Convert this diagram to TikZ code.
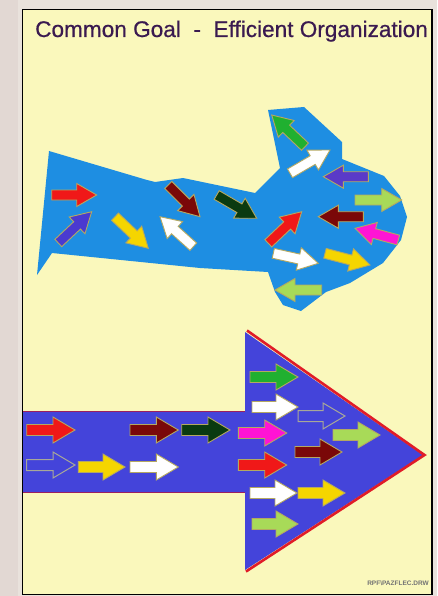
\documentclass[tikz,border=0pt]{standalone}
\usepackage{fontspec}
\setmainfont{Liberation Sans}
\newfontfamily\titlefont[FakeBold=0.6]{Liberation Sans}
\usetikzlibrary{calc}
\definecolor{bgout}{HTML}{E9E2DC}
\definecolor{bgleft}{HTML}{E2D8D3}
\definecolor{paper}{HTML}{FAF8BC}
\definecolor{skyblue}{HTML}{1E8EE2}
\definecolor{violetblue}{HTML}{4444DA}
\definecolor{titlec}{HTML}{3A1A50}
\definecolor{edgeol}{HTML}{B4A862}
\definecolor{edgegr}{HTML}{A8A898}
\definecolor{cred}{HTML}{F01818}
\definecolor{cdred}{HTML}{7A0808}
\definecolor{cdgreen}{HTML}{0A3A10}
\definecolor{cgreen}{HTML}{20B030}
\definecolor{cyellow}{HTML}{F5D500}
\definecolor{clgreen}{HTML}{A8DA58}
\definecolor{cmagenta}{HTML}{FF14D4}
\definecolor{cpurple}{HTML}{4A3AD0}
\definecolor{cviolet}{HTML}{5A3AC8}
\definecolor{rededge}{HTML}{E01C28}
\definecolor{shaftedge}{HTML}{9A2060}
\tikzset{
  arrowstyle/.style={draw=edgeol, line width=0.9pt, line join=miter},
  hollowstyle/.style={draw=edgegr, line width=1pt, fill=violetblue},
}
\newcommand{\shw}{5}
\newcommand{\hdw}{11.5}
\newcommand{\hdl}{20}
\newcommand{\blkarr}[6][arrowstyle]{%
  \pgfmathsetmacro\arlen{veclen(#5-#3,#6-#4)}%
  \pgfmathsetmacro\arang{atan2(#4-#6,#5-#3)}%
  \begin{scope}[shift={(#3,#4)},rotate=\arang]
    \filldraw[#1,fill=#2] (0,-\shw) -- (\arlen-\hdl,-\shw) -- (\arlen-\hdl,-\hdw) -- (\arlen,0) -- (\arlen-\hdl,\hdw) -- (\arlen-\hdl,\shw) -- (0,\shw) -- cycle;
  \end{scope}}
\begin{document}
\begin{tikzpicture}[x=1pt,y=-1pt]
\useasboundingbox (0,0) rectangle (437,596);
\fill[bgout] (0,0) rectangle (437,596);
\fill[bgleft] (0,0) rectangle (18,596);
\filldraw[fill=paper, draw=black, line width=1.6pt] (22.5,9.5) rectangle (432,594.5);
% title
\node[anchor=base west, text=titlec, font=\titlefont\fontsize{22.6}{26}\selectfont, inner sep=0] (title) at (35,37) {Common Goal\ \ -\ \ Efficient Organization};
% upper blue shape
\fill[skyblue] (49,151) -- (147,180) -- (155,182) -- (183,178) -- (255,193) -- (280,168) -- (268,110) -- (304,107) -- (342,142) -- (342,159) -- (384,176) -- (400,196) -- (407,217) -- (401,240) -- (383,263) -- (350,283) -- (326,292) -- (301,311) -- (283,305) -- (275,292) -- (268,272) -- (200,268) -- (52,253) -- (37,275) -- cycle;
% upper arrows
\blkarr{cred}{51.7}{195}{96.7}{195}
\blkarr{cpurple}{58.3}{243}{91.7}{211.7}
\blkarr{cyellow}{115}{216.7}{148.3}{248.3}
\blkarr{white}{193.3}{246.7}{160}{216.7}
\blkarr{cdred}{168.3}{185}{200}{216.7}
\blkarr{cdgreen}{216.7}{195}{256.7}{218.3}
\blkarr{cgreen}{305}{146.7}{271.7}{115}
\blkarr{white}{290}{173.3}{330}{150}
\blkarr{cviolet}{368.3}{176.7}{323.3}{176.7}
\blkarr{clgreen}{355}{200}{401.7}{200}
\blkarr{cred}{268.3}{243.3}{301.7}{211.7}
\blkarr{cdred}{363.3}{216.7}{318.3}{216.7}
\blkarr{cmagenta}{398.3}{240}{355}{228.3}
\blkarr{white}{273.3}{253.3}{318.3}{263.3}
\blkarr{cyellow}{325}{253.3}{370}{265}
\blkarr{clgreen}{321.7}{290}{275}{290}
% lower big arrow
\fill[violetblue] (23,412) -- (245,412) -- (245,332) -- (423,455) -- (245,570) -- (245,492) -- (23,492) -- cycle;
\draw[shaftedge, line width=0.8pt] (23,411.5) -- (245,411.5);
\draw[shaftedge, line width=0.8pt] (23,492.5) -- (245,492.5);
\draw[rededge, line width=2.6pt] (247,330.5) -- (424.5,455) -- (246,571.5);
% lower arrows
\renewcommand{\shw}{5.5}
\renewcommand{\hdw}{13}
\renewcommand{\hdl}{22}
\blkarr{cred}{26.7}{430}{75}{430}
\blkarr{cdred}{130}{430}{178.3}{430}
\blkarr{cdgreen}{181.7}{430}{230}{430}
\blkarr{cmagenta}{238.3}{433}{286.7}{433}
\blkarr[hollowstyle]{violetblue}{26.7}{465}{75}{465}
\blkarr{cyellow}{78.3}{467}{125}{467}
\blkarr{white}{130}{467}{178.3}{467}
\blkarr{cred}{238.3}{465}{286.7}{465}
\blkarr{cgreen}{250}{377}{298}{377}
\blkarr{white}{252}{407}{298}{407}
\blkarr[hollowstyle]{violetblue}{298}{416}{345}{416}
\blkarr{clgreen}{333}{435}{380}{435}
\blkarr{cdred}{295}{452}{342}{452}
\blkarr{white}{250}{493}{297}{493}
\blkarr{cyellow}{298}{493}{345}{493}
\blkarr{clgreen}{252}{524}{298}{524}
% footer
\node[anchor=base east, text=black!55, font=\fontsize{6.5}{7}\selectfont\bfseries, inner sep=0] (footer) at (429,585) {RPF\textbackslash PAZFLEC.DRW};
\end{tikzpicture}
\end{document}
